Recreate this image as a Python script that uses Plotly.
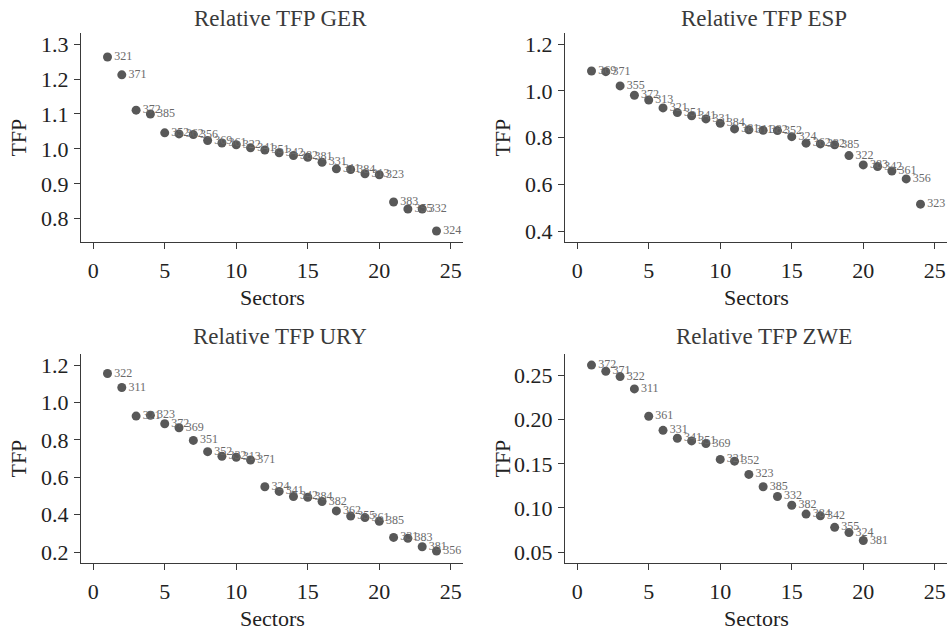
import plotly.graph_objects as go

# ---------------- data ----------------
ger_sector = [1, 2, 3, 4, 5, 6, 7, 8, 9, 10, 11, 12, 13, 14, 15, 16, 17, 18, 19, 20, 21, 22, 23, 24]
ger_tfp = [1.263, 1.212, 1.111, 1.100, 1.046, 1.043, 1.041, 1.024, 1.017, 1.012, 1.003, 0.997,
           0.989, 0.981, 0.976, 0.962, 0.943, 0.941, 0.929, 0.926, 0.848, 0.828, 0.828, 0.765]
ger_code = ["321", "371", "372", "385", "352", "362", "356", "369", "361", "322", "341", "351",
            "342", "382", "381", "331", "311", "384", "313", "323", "383", "355", "332", "324"]

esp_sector = [1, 2, 3, 4, 5, 6, 7, 8, 9, 10, 11, 12, 13, 14, 15, 16, 17, 18, 19, 20, 21, 22, 23, 24]
esp_tfp = [1.085, 1.082, 1.021, 0.981, 0.961, 0.927, 0.907, 0.893, 0.880, 0.861, 0.837, 0.833,
           0.831, 0.830, 0.804, 0.776, 0.773, 0.769, 0.723, 0.683, 0.676, 0.657, 0.623, 0.515]
esp_code = ["369", "371", "355", "372", "313", "321", "351", "341", "331", "384", "381", "311",
            "382", "352", "324", "362", "332", "385", "322", "383", "342", "361", "356", "323"]

ury_sector = [1, 2, 3, 4, 5, 6, 7, 8, 9, 10, 11, 12, 13, 14, 15, 16, 17, 18, 19, 20, 21, 22, 23, 24]
ury_tfp = [1.155, 1.080, 0.927, 0.931, 0.886, 0.865, 0.797, 0.737, 0.712, 0.707, 0.692, 0.549,
           0.524, 0.497, 0.493, 0.470, 0.420, 0.392, 0.384, 0.364, 0.278, 0.273, 0.228, 0.205]
ury_code = ["322", "311", "321", "323", "372", "369", "351", "352", "332", "313", "371", "324",
            "341", "342", "384", "382", "362", "355", "361", "385", "331", "383", "381", "356"]

zwe_sector = [1, 2, 3, 4, 5, 6, 7, 8, 9, 10, 11, 12, 13, 14, 15, 16, 17, 18, 19, 20]
zwe_tfp = [0.262, 0.255, 0.249, 0.235, 0.204, 0.188, 0.179, 0.176, 0.173, 0.155, 0.153, 0.138,
           0.124, 0.113, 0.103, 0.093, 0.091, 0.078, 0.072, 0.063]
zwe_code = ["372", "371", "322", "311", "361", "331", "341", "351", "369", "321", "352", "323",
            "385", "332", "382", "384", "342", "355", "324", "381"]

x_ticks = [0, 5, 10, 15, 20, 25]
ger_ticks = [0.8, 0.9, 1.0, 1.1, 1.2, 1.3]
esp_ticks = [0.4, 0.6, 0.8, 1.0, 1.2]
ury_ticks = [0.2, 0.4, 0.6, 0.8, 1.0, 1.2]
zwe_ticks = [0.05, 0.10, 0.15, 0.20, 0.25]

panels = [
    ("Relative TFP GER", ger_sector, ger_tfp, ger_code, ger_ticks, ".1f"),
    ("Relative TFP ESP", esp_sector, esp_tfp, esp_code, esp_ticks, ".1f"),
    ("Relative TFP URY", ury_sector, ury_tfp, ury_code, ury_ticks, ".1f"),
    ("Relative TFP ZWE", zwe_sector, zwe_tfp, zwe_code, zwe_ticks, ".2f"),
]

# ---------------- layout geometry (pixels from top-left) ----------------
W, H = 952, 633
col_px = [(81, 463), (565, 947)]
row_px = [(32, 242), (354, 564)]
title_y = [18, 337]

FONT = "Liberation Serif"
MARK = "#585858"
LAB = "#6a6a6a"
AX = "#3a3a3a"

fig = go.Figure()
annotations = []
layout_axes = {}

for i, (title, xs, ys, codes, yt, fmt) in enumerate(panels):
    r, c = divmod(i, 2)
    x0, x1 = col_px[c]
    y0, y1 = row_px[r]
    n = i + 1
    xa = "x" if n == 1 else f"x{n}"
    ya = "y" if n == 1 else f"y{n}"

    fig.add_trace(go.Scatter(
        x=xs, y=ys, text=codes, mode="markers+text",
        textposition="middle right",
        marker=dict(size=9, color=MARK),
        textfont=dict(family=FONT, size=12, color=LAB),
        xaxis=xa, yaxis=ya, showlegend=False, cliponaxis=False,
    ))

    xlo, xhi = min(min(x_ticks), min(xs)), max(max(x_ticks), max(xs))
    xpad = (xhi - xlo) * 0.0341
    ylo, yhi = min(min(yt), min(ys)), max(max(yt), max(ys))
    ypad = (yhi - ylo) * 0.06

    common = dict(showline=True, linecolor=AX, linewidth=1, mirror=False,
                  ticks="outside", ticklen=6, tickcolor=AX, tickwidth=1,
                  showgrid=False, zeroline=False,
                  tickfont=dict(family=FONT, size=22, color="#222"))

    layout_axes["xaxis" if n == 1 else f"xaxis{n}"] = dict(
        domain=[x0 / W, x1 / W], anchor=ya, range=[xlo - xpad, xhi + xpad],
        tickvals=x_ticks, ticklabelstandoff=2, **common)
    layout_axes["yaxis" if n == 1 else f"yaxis{n}"] = dict(
        domain=[1 - y1 / H, 1 - y0 / H], anchor=xa, range=[ylo - ypad, yhi + ypad],
        tickvals=yt, tickformat=fmt, ticklabelstandoff=1, **common)

    cx = (x0 + x1) / 2
    annotations.append(dict(text=title, x=(cx + 8) / W, y=1 - title_y[r] / H, xref="paper", yref="paper",
                            showarrow=False, xanchor="center", yanchor="middle",
                            font=dict(family=FONT, size=23, color="#3a3a3a")))
    annotations.append(dict(text="Sectors", x=cx / W, y=1 - (y1 + 55) / H, xref="paper", yref="paper",
                            showarrow=False, xanchor="center", yanchor="middle",
                            font=dict(family=FONT, size=22, color="#222")))
    annotations.append(dict(text="TFP", x=(x0 - 62) / W, y=1 - ((y0 + y1) / 2) / H, xref="paper",
                            yref="paper", showarrow=False, textangle=-90,
                            xanchor="center", yanchor="middle",
                            font=dict(family=FONT, size=22, color="#222")))

fig.update_layout(width=W, height=H, margin=dict(l=0, r=0, t=0, b=0),
                  paper_bgcolor="white", plot_bgcolor="white", hovermode=False,
                  annotations=annotations, **layout_axes)

fig.write_html("out.html", config={"displayModeBar": False, "staticPlot": True},
               post_script="document.body.style.margin='0px';")
